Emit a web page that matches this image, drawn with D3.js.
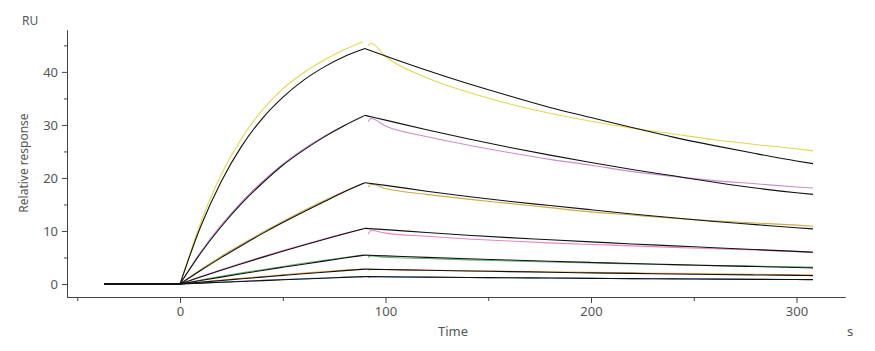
<!DOCTYPE html>
<html>
<head>
<meta charset="utf-8">
<script src="https://cdn.jsdelivr.net/npm/d3@7"></script>
<style>
  body { margin: 0; background: #fff; }
  text { font-family: "Noto Sans", "Open Sans", sans-serif; }
  .axis path, .axis line { stroke: #444; }
  .axis text { fill: #555; font-size: 13px; }
</style>
</head>
<body>
<div class="chart"></div>
<script>
// sensorgram: association 0-90 s, dissociation 90-308 s
var baseTime = [-37, -18, 0];
var assocTime = [0, 10, 20, 30, 40, 50, 60, 70, 80, 90];
var dataAssocTime = [0, 10, 20, 30, 40, 50, 60, 70, 80, 89];
var fitDissocTime = [90, 100, 120, 140, 160, 180, 200, 220, 240, 260, 280, 300, 308];
var dataDissocTime = [91.5, 93, 100, 120, 140, 160, 180, 200, 220, 240, 260, 280, 300, 308];

var seriesColors = ["#e4d650", "#c98dcb", "#cbab4c", "#e884c3", "#62b070", "#f2a85c", "#5e8fc6"];

var dataAssoc = [
  [0, 11.5, 20.6, 27.5, 32.8, 36.8, 39.8, 42.2, 44.2, 45.7],
  [0, 6.0, 11.1, 15.5, 19.3, 22.6, 25.4, 27.8, 29.9, 31.6],
  [0, 2.7, 5.2, 7.5, 9.7, 11.8, 13.8, 15.7, 17.5, 19.0],
  [0, 1.4, 2.7, 3.95, 5.15, 6.3, 7.4, 8.5, 9.5, 10.4],
  [0, 0.75, 1.45, 2.1, 2.7, 3.3, 3.9, 4.45, 5.0, 5.45],
  [0, 0.38, 0.74, 1.08, 1.42, 1.74, 2.05, 2.35, 2.62, 2.82],
  [0, 0.18, 0.35, 0.52, 0.68, 0.84, 0.99, 1.14, 1.28, 1.4]
];

var dataDissoc = [
  [45.0, 45.4, 42.9, 38.9, 36.2, 34.0, 32.2, 30.7, 29.4, 28.3, 27.2, 26.3, 25.5, 25.1],
  [30.6, 31.2, 29.8, 27.8, 26.2, 24.8, 23.5, 22.4, 21.2, 20.3, 19.5, 18.9, 18.3, 18.1],
  [18.3, 18.8, 18.0, 16.9, 16.0, 15.2, 14.4, 13.6, 13.0, 12.4, 11.9, 11.5, 11.1, 10.9],
  [9.4, 10.1, 9.6, 9.0, 8.5, 8.1, 7.75, 7.45, 7.2, 6.9, 6.65, 6.4, 6.1, 5.95],
  [5.0, 5.3, 5.05, 4.8, 4.55, 4.35, 4.15, 3.95, 3.8, 3.65, 3.5, 3.37, 3.25, 3.2],
  [2.6, 2.75, 2.72, 2.6, 2.5, 2.4, 2.3, 2.2, 2.1, 2.0, 1.92, 1.84, 1.76, 1.72],
  [1.3, 1.38, 1.34, 1.28, 1.22, 1.17, 1.12, 1.07, 1.02, 0.98, 0.94, 0.9, 0.86, 0.84]
];

var fitAssoc = [
  [0, 10.8, 19.3, 26.0, 31.2, 35.2, 38.4, 40.9, 42.9, 44.4],
  [0, 5.8, 10.8, 15.2, 19.0, 22.4, 25.2, 27.7, 29.9, 31.8],
  [0, 2.54, 4.97, 7.28, 9.5, 11.6, 13.6, 15.5, 17.4, 19.1],
  [0, 1.31, 2.58, 3.82, 5.02, 6.18, 7.31, 8.41, 9.47, 10.5],
  [0, 0.66, 1.3, 1.93, 2.55, 3.15, 3.74, 4.32, 4.89, 5.45],
  [0, 0.33, 0.66, 0.98, 1.3, 1.62, 1.93, 2.23, 2.52, 2.8],
  [0, 0.16, 0.32, 0.48, 0.64, 0.8, 0.95, 1.1, 1.25, 1.4]
];

var fitDissoc = [
  [44.4, 43.0, 40.3, 37.8, 35.5, 33.3, 31.4, 29.5, 27.7, 26.1, 24.6, 23.2, 22.7],
  [31.8, 30.9, 29.1, 27.4, 25.8, 24.3, 22.9, 21.6, 20.4, 19.2, 18.1, 17.2, 16.9],
  [19.1, 18.6, 17.5, 16.5, 15.6, 14.8, 14.0, 13.2, 12.5, 11.8, 11.2, 10.6, 10.4],
  [10.5, 10.25, 9.7, 9.2, 8.75, 8.35, 7.95, 7.55, 7.2, 6.85, 6.5, 6.15, 6.0],
  [5.45, 5.31, 5.03, 4.77, 4.53, 4.29, 4.07, 3.86, 3.66, 3.47, 3.29, 3.12, 3.05],
  [2.8, 2.73, 2.59, 2.46, 2.34, 2.22, 2.1, 2.0, 1.9, 1.8, 1.71, 1.63, 1.59],
  [1.4, 1.37, 1.3, 1.24, 1.18, 1.12, 1.07, 1.02, 0.97, 0.92, 0.88, 0.84, 0.82]
];

var baseValues = [0, 0, 0];

var xMajor = [0, 100, 200, 300];
var xMinor = [-50, 50, 150, 250];
var yMajor = [0, 10, 20, 30, 40];
var yMinor = [5, 15, 25, 35, 45];

var svgWidth = 875;
var svgHeight = 351;

var svg = d3.select(".chart")
  .append("svg")
  .attr("width", svgWidth)
  .attr("height", svgHeight);

var xScale = d3.scaleLinear().domain([-55, 323.6]).range([67, 845]);
var yScale = d3.scaleLinear().domain([-2.45, 47.9]).range([297, 30]);

var line = d3.line()
  .x(d => xScale(d[0]))
  .y(d => yScale(d[1]))
  .curve(d3.curveMonotoneX);

function pairs(ts, vs) {
  return ts.map((t, i) => [t, vs[i]]);
}

// axes
svg.append("g")
  .attr("class", "axis")
  .attr("transform", "translate(0,297)")
  .call(d3.axisBottom(xScale).tickValues(xMinor).tickSize(4).tickSizeOuter(0).tickFormat(""));

svg.append("g")
  .attr("class", "axis")
  .attr("transform", "translate(0,297)")
  .call(d3.axisBottom(xScale).tickValues(xMajor).tickSize(6).tickSizeOuter(0).tickPadding(4));

svg.append("g")
  .attr("class", "axis")
  .attr("transform", "translate(67,0)")
  .call(d3.axisLeft(yScale).tickValues(yMinor).tickSize(3).tickSizeOuter(0).tickFormat(""));

svg.append("g")
  .attr("class", "axis")
  .attr("transform", "translate(67,0)")
  .call(d3.axisLeft(yScale).tickValues(yMajor).tickSize(5).tickSizeOuter(0).tickPadding(4));

// labels
svg.append("text")
  .attr("x", 22).attr("y", 25)
  .attr("font-size", 12).attr("fill", "#555")
  .text("RU");

svg.append("text")
  .attr("transform", "translate(28,163) rotate(-90)")
  .attr("text-anchor", "middle")
  .attr("font-size", 12).attr("fill", "#555")
  .text("Relative response");

svg.append("text")
  .attr("x", 453).attr("y", 336)
  .attr("text-anchor", "middle")
  .attr("font-size", 13).attr("fill", "#555")
  .text("Time");

svg.append("text")
  .attr("x", 850).attr("y", 336)
  .attr("text-anchor", "middle")
  .attr("font-size", 13).attr("fill", "#555")
  .text("s");

// measured curves
var dataGroup = svg.append("g");
seriesColors.forEach(function(color, i) {
  [pairs(baseTime, baseValues), pairs(dataAssocTime, dataAssoc[i]), pairs(dataDissocTime, dataDissoc[i])]
    .forEach(function(seg) {
      dataGroup.append("path")
        .datum(seg)
        .attr("d", line)
        .attr("fill", "none")
        .attr("stroke", color)
        .attr("stroke-width", 1.1);
    });
});

// fitted curves
var fitGroup = svg.append("g");
fitAssoc.forEach(function(vals, i) {
  [pairs(baseTime, baseValues), pairs(assocTime, vals), pairs(fitDissocTime, fitDissoc[i])]
    .forEach(function(seg) {
      fitGroup.append("path")
        .datum(seg)
        .attr("d", line)
        .attr("fill", "none")
        .attr("stroke", "#111")
        .attr("stroke-width", 1.1);
    });
});
</script>
</body>
</html>
